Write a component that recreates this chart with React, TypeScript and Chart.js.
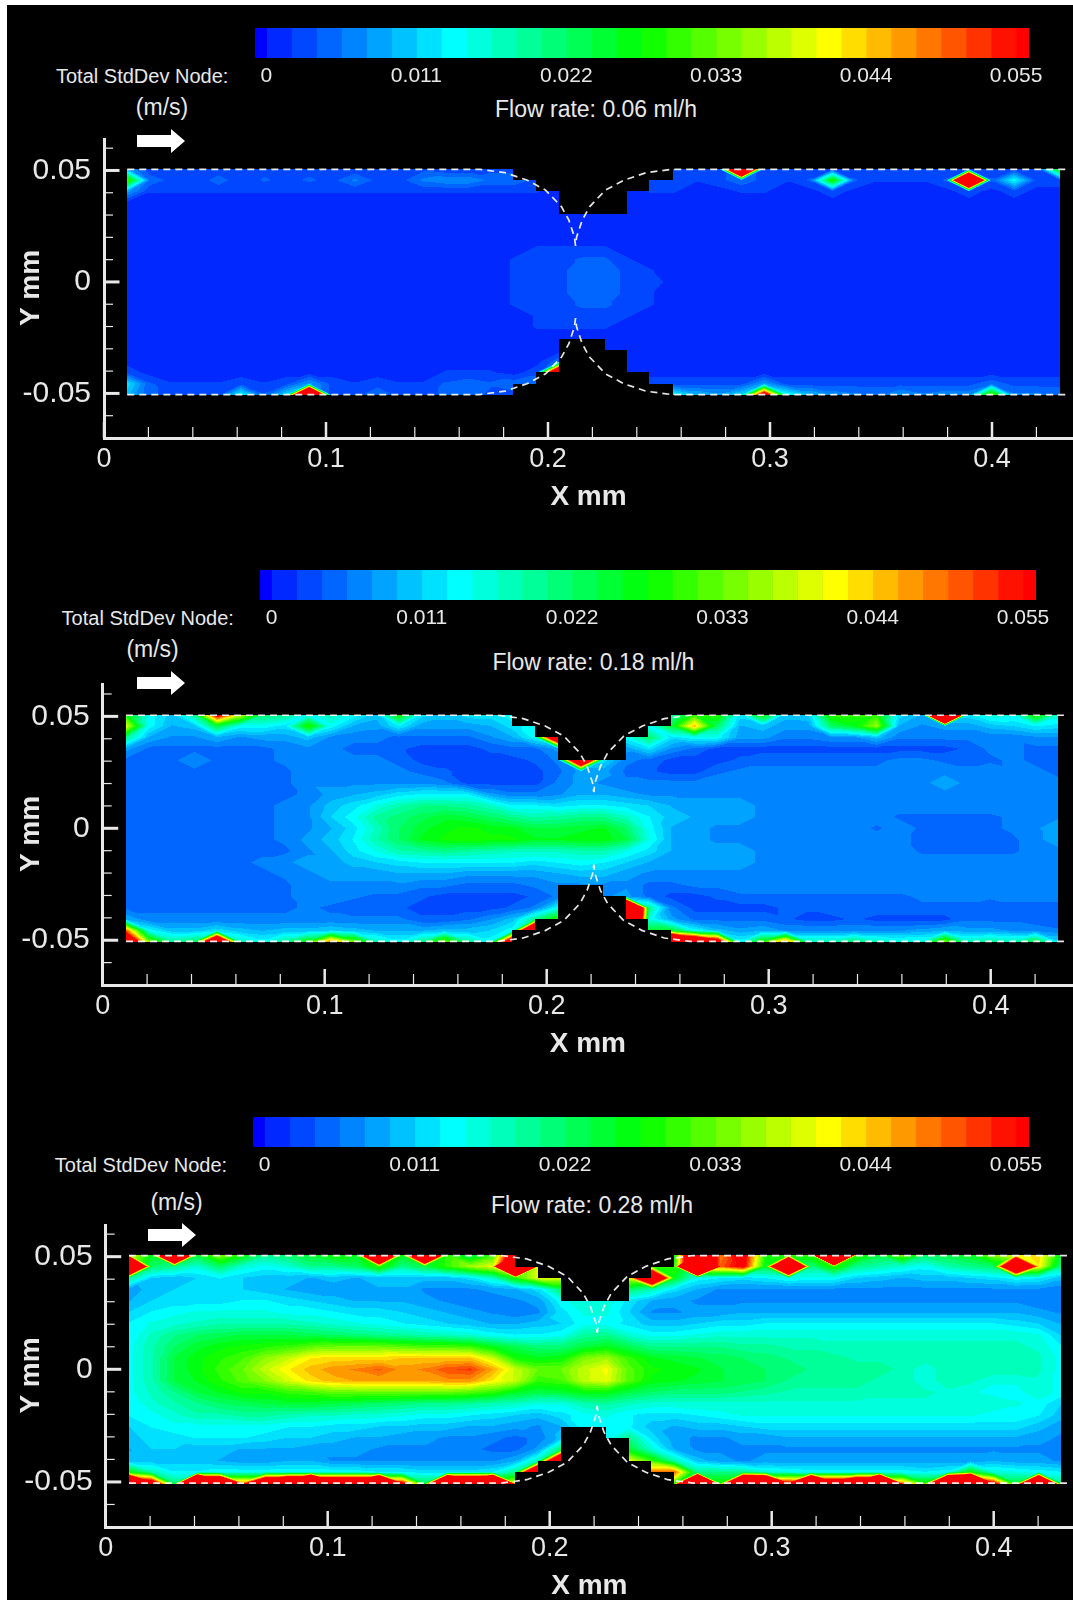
import React, { useEffect, useRef } from "react";
import { Chart, registerables } from "chart.js";

Chart.register(...registerables);

const FONT = "'Liberation Sans', Arial, sans-serif";
const INK = "#e8e8e8";

// Node columns (mm) and rows (mm) of the measurement grid
const X_FIRST = 0.0105;
const X_STEP = 0.010244;
const Y_FIRST = 0.0507;
const Y_STEP = 0.00507;

// Colour-bar levels (m/s)
const LEVEL_LABELS = [0, 0.011, 0.022, 0.033, 0.044, 0.055];
const LEVEL_COUNT = 30;
const LEVEL_MAX = 0.055;
const BAR_MIN = -0.00084;
const BAR_MAX = 0.05595;

const X_TICKS = [0, 0.02, 0.04, 0.06, 0.08, 0.1, 0.12, 0.14, 0.16, 0.18, 0.2, 0.22, 0.24, 0.26, 0.28, 0.3, 0.32, 0.34, 0.36, 0.38, 0.4, 0.42];
const X_MAJOR = [0, 0.1, 0.2, 0.3, 0.4];
const Y_TICKS = [-0.07, -0.06, -0.05, -0.04, -0.03, -0.02, -0.01, 0, 0.01, 0.02, 0.03, 0.04, 0.05, 0.06];
const Y_MAJOR = [-0.05, 0, 0.05];

// Blanked constriction, stepped on the grid (mm)
const TOP_STEP_X = [0.1843, 0.1843, 0.1948, 0.1948, 0.205, 0.205, 0.2357, 0.2357, 0.2455, 0.2455, 0.2561, 0.2561];
const TOP_STEP_Y = [0.052, 0.0456, 0.0456, 0.0406, 0.0406, 0.0304, 0.0304, 0.0406, 0.0406, 0.0456, 0.0456, 0.052];
const BOTTOM_STEP_X = [0.1843, 0.1843, 0.1948, 0.1948, 0.205, 0.205, 0.2255, 0.2255, 0.2357, 0.2357, 0.2455, 0.2455, 0.2561, 0.2561];
const BOTTOM_STEP_Y = [-0.052, -0.0456, -0.0456, -0.0406, -0.0406, -0.0254, -0.0254, -0.0304, -0.0304, -0.0406, -0.0406, -0.0456, -0.0456, -0.052];

// Throat profile: distance from the throat centre (mm), height (mm)
const THROAT_DX = [0.0432, 0.0318, 0.0219, 0.0135, 0.0063, 0.003, 0.0005, 0];
const THROAT_Y = [0.0505, 0.049, 0.0457, 0.0412, 0.0337, 0.0277, 0.0202, 0.0162];
const WALL_LEFT = 0.0105;
const WALL_RIGHT = 0.433;

// Standard deviation at each node (mm/s), rows from the top wall down
const FIELD_006 = [
  [8,2,2,2,2,2,3,2,3,2, 2,2,3,3,2,2,3,3,3,2, 2,2,2,2,2,2,3,150,3,2, 2,2,2,2,2,2,2,3,2,2, 2,30],
  [32,5,3,2,5,2,4,3,4,3, 6,3,3,6,7,7,5,5,3,2, 2,2,2,2,2,2,3,5,3,2, 4,30,4,2,2,2,4,150,4,14, 3,3],
  [8,2,2,2,2,2,2,2,2,2, 2,2,2,2,2,2,2,2,2,1, 1,1,1,2,2,1,1,2,2,1, 1,3,1,1,1,1,1,3,1,3, 1,1],
  [1,1,1,1,1,1,1,1,1,1, 1,1,1,1,1,1,1,1,1,1, 1,1,1,1,1,1,1,1,1,1, 1,1,1,1,1,1,1,1,1,1, 1,1],
  [1,1,1,1,1,1,1,1,1,1, 1,1,1,1,1,1,1,1,1,1, 1,1,1,1,1,1,1,1,1,1, 1,1,1,1,1,1,1,1,1,1, 1,1],
  [1,1,1,1,1,1,1,1,1,1, 1,1,1,1,1,1,1,1,1,1, 1,1,1,1,1,1,1,1,1,1, 1,1,1,1,1,1,1,1,1,1, 1,1],
  [1,1,1,1,1,1,1,1,1,1, 1,1,1,1,1,1,1,1,1,1, 1,1,1,1,1,1,1,1,1,1, 1,1,1,1,1,1,1,1,1,1, 1,1],
  [1,1,1,1,1,1,1,1,1,1, 1,1,1,1,1,1,1,1,2,2, 2,2,1,1,1,1,1,1,1,1, 1,1,1,1,1,1,1,1,1,1, 1,1],
  [1,1,1,1,1,1,1,1,1,1, 1,1,1,1,1,1,1,2,3,3, 4,4,2,1,1,1,1,1,1,1, 1,1,1,1,1,1,1,1,1,1, 1,1],
  [1,1,1,1,1,1,1,1,1,1, 1,1,1,1,1,1,1,2,3,3, 5,5,3,2,1,1,1,1,1,1, 1,1,1,1,1,1,1,1,1,1, 1,1],
  [1,1,1,1,1,1,1,1,1,1, 1,1,1,1,1,1,1,2,3,3, 5,5,3,3,1,1,1,1,1,1, 1,1,1,1,1,1,1,1,1,1, 1,1],
  [1,1,1,1,1,1,1,1,1,1, 1,1,1,1,1,1,1,2,3,3, 5,5,3,2,1,1,1,1,1,1, 1,1,1,1,1,1,1,1,1,1, 1,1],
  [1,1,1,1,1,1,1,1,1,1, 1,1,1,1,1,1,1,2,3,3, 4,4,3,2,1,1,1,1,1,1, 1,1,1,1,1,1,1,1,1,1, 1,1],
  [1,1,1,1,1,1,1,1,1,1, 1,1,1,1,1,1,1,1,2,3, 3,3,2,1,1,1,1,1,1,1, 1,1,1,1,1,1,1,1,1,1, 1,1],
  [1,1,1,1,1,1,1,1,1,1, 1,1,1,1,1,1,1,1,2,2, 2,2,1,1,1,1,1,1,1,1, 1,1,1,1,1,1,1,1,1,1, 1,1],
  [1,1,1,1,1,1,1,1,1,1, 1,1,1,1,1,1,1,1,1,1, 1,1,1,1,1,1,1,1,1,1, 1,1,1,1,1,1,1,1,1,1, 1,1],
  [1,1,1,1,1,1,1,1,1,1, 1,1,1,1,1,1,1,1,1,1, 1,1,1,1,1,1,1,1,1,1, 1,1,1,1,1,1,1,1,1,1, 1,1],
  [1,1,1,1,1,1,1,1,1,1, 1,1,1,1,1,1,1,1,1,5, 1,1,1,1,1,1,1,1,1,1, 1,1,1,1,1,1,1,1,1,1, 1,1],
  [3,1,1,1,1,1,1,1,1,1, 1,1,1,1,2,2,2,1,3,100, 1,1,1,1,1,1,1,1,1,1, 1,1,1,1,1,1,1,1,1,1, 1,1],
  [12,4,2,2,2,3,2,3,8,3, 2,3,2,2,4,5,4,5,5,20, 2,2,2,3,3,3,3,3,8,3, 3,3,3,3,3,3,3,3,5,3, 3,3],
  [10,4,3,3,3,14,4,12,150,3, 3,5,3,3,4,5,3,3,3,3, 3,3,3,3,14,10,8,12,70,15, 10,7,6,5,8,6,7,7,35,6, 6,5],
];

const FIELD_018 = [
  [28,14,10,20,60,40,22,20,14,18, 14,10,30,12,10,12,12,14,14,14, 14,14,14,14,18,30,30,12,30,10, 11,30,30,30,12,9,200,12,16,15, 30,16],
  [40,14,9,10,24,14,14,12,30,14, 9,8,13,8,8,8,9,12,14,14, 14,14,14,14,25,45,22,9,10,8, 8,22,26,36,9,7,8,8,10,11, 13,12],
  [20,9,7,7,9,7,8,8,10,7, 6,6,5,5,5,5,7,9,14,90, 14,14,14,22,12,14,14,8,8,6, 6,7,7,10,6,6,6,6,6,6, 7,7],
  [8,5,5,5,5,5,5,6,7,6, 5,5,4,3,3,3,4,5,5,8, 8,8,8,12,7,5,3,3,3,3, 3,3,3,3,3,3,3,4,6,6, 5,5],
  [5,5,5,7,5,5,5,6,7,7, 6,6,5,3,3,3,3,3,4,6, 100,12,6,5,3,3,3,4,5,5, 5,5,5,5,6,6,5,5,5,6, 5,5],
  [5,5,5,5,5,5,5,5,7,7, 7,7,6,5,4,3,3,3,3,5, 8,8,5,4,3,3,5,6,6,6, 6,6,6,6,6,7,7,6,7,6, 6,5],
  [5,5,5,5,5,5,5,5,7,7, 7,7,7,7,6,3,3,3,3,6, 8,7,6,6,6,6,7,7,7,7, 7,7,7,7,7,7,8,7,7,7, 7,6],
  [5,5,5,5,5,5,5,5,6,8, 9,10,12,13,13,13,8,6,6,7, 9,9,8,7,7,7,7,7,7,7, 7,7,7,7,7,7,7,7,7,7, 7,7],
  [5,5,5,5,5,5,5,6,7,10, 12,15,18,20,20,19,17,13,13,12, 13,13,12,11,9,8,8,8,7,7, 7,7,7,7,7,7,7,7,7,7, 7,7],
  [5,5,5,5,5,5,5,6,7,11, 14,19,21,23,25,24,22,20,18,19, 20,20,17,13,10,9,8,8,7,7, 7,7,7,7,5,5,5,5,5,6, 7,7],
  [5,5,5,5,5,5,5,6,7,9, 12,17,22,25,27,28,27,26,24,24, 25,26,22,14,9,8,7,7,7,7, 7,7,7,5,7,5,5,5,5,6, 7,9],
  [5,5,5,5,5,5,5,6,8,10, 13,18,22,26,28,29,28,28,26,26, 27,27,24,15,9,8,7,7,7,7, 7,7,7,7,6,5,5,5,5,5, 7,8],
  [5,5,5,5,5,5,5,5,7,9, 12,15,18,19,20,19,18,17,17,17, 18,18,15,12,9,9,8,8,7,7, 7,7,7,7,7,5,5,5,5,5, 7,7],
  [5,5,5,5,5,5,6,7,8,8, 10,11,12,13,13,13,13,13,12,13, 14,13,11,9,8,8,8,8,7,7, 7,7,7,7,7,7,7,7,7,7, 7,7],
  [5,5,5,5,5,5,5,6,7,8, 8,8,9,9,9,8,8,8,8,9, 10,10,8,7,7,7,7,7,7,7, 7,7,7,7,7,7,7,7,7,7, 7,7],
  [5,5,5,5,5,5,5,5,7,7, 7,7,7,6,6,5,5,5,6,7, 7,7,7,5,5,6,6,7,7,7, 7,7,7,7,7,7,7,7,7,7, 7,7],
  [5,5,5,5,5,5,5,5,7,7, 6,5,5,4,3,3,3,3,4,6, 7,7,8,5,3,3,4,5,5,5, 5,5,5,5,5,6,6,6,6,6, 6,6],
  [5,5,5,5,5,5,5,5,6,5, 4,4,4,3,3,3,3,4,6,14, 14,14,150,20,6,3,3,3,3,4, 4,5,5,5,5,5,5,5,4,5, 5,5],
  [9,6,6,6,6,6,6,6,6,6, 6,6,6,4,4,5,7,10,20,30, 30,30,150,15,8,5,5,5,5,4, 3,3,4,3,3,3,3,5,5,5, 4,4],
  [50,14,10,10,12,10,9,10,10,11, 10,9,9,9,10,10,11,14,120,120, 120,25,25,25,25,14,10,8,9,7, 7,7,7,7,7,8,9,8,8,7, 7,6],
  [80,35,20,22,100,18,14,20,28,50, 35,18,14,20,35,20,14,80,100,100, 100,100,100,100,120,90,70,14,30,50, 18,18,22,18,16,16,35,18,20,18, 25,12],
];

const FIELD_028 = [
  [40,26,150,25,35,28,20,22,25,28, 26,150,26,140,30,22,30,70,70,30, 30,30,30,30,28,90,48,60,28,30, 30,250,30,24,34,22,24,26,35,40, 44,24],
  [150,22,20,16,22,16,14,16,20,20, 22,30,20,24,30,36,40,200,40,30, 30,30,30,30,30,200,50,58,25,150, 20,30,20,18,16,14,18,20,22,110, 42,20],
  [20,11,10,11,13,11,10,10,9,10, 9,10,10,10,10,12,17,30,40,40, 40,40,40,100,26,14,13,12,13,15, 14,14,11,10,9,10,10,11,12,14, 13,10],
  [8,10,11,11,11,11,10,9,8,8, 8,9,9,7,7,7,8,9,12,22, 22,22,22,18,12,9,7,7,7,7, 7,7,7,7,7,7,7,7,7,7, 7,6],
  [9,11,12,12,12,13,13,12,11,10, 9,9,9,8,7,6,6,7,8,14, 16,16,12,9,8,7,7,7,7,7, 7,7,7,7,7,7,7,7,7,7, 6,6],
  [11,13,14,15,15,15,15,14,14,13, 12,12,11,10,9,8,7,6,7,12, 15,15,11,7,7,8,8,9,9,9, 9,9,9,9,9,9,9,9,9,9, 8,7],
  [13,15,16,17,18,18,18,18,17,16, 15,14,13,12,11,10,9,9,10,11, 14,14,12,10,10,11,12,12,13,13, 13,13,13,13,13,13,13,13,13,12, 11,9],
  [13,17,20,22,23,24,24,24,23,22, 21,20,19,18,17,16,14,13,13,14, 19,20,16,14,14,15,16,16,16,16, 16,16,16,16,16,16,16,16,16,16, 15,11],
  [14,18,22,25,27,28,29,30,32,33, 33,33,32,31,31,30,26,23,21,21, 24,26,23,20,20,20,20,19,19,18, 18,17,17,17,17,17,17,17,17,17, 16,13],
  [14,18,24,27,29,31,35,38,42,43, 43,43,44,44,44,44,38,28,26,27, 34,36,30,26,25,24,23,22,21,20, 19,19,18,18,18,18,17,17,17,17, 17,14],
  [14,18,24,27,30,33,38,42,45,47, 48,50,47,48,51,52,46,38,33,33, 38,41,32,28,27,26,24,23,22,21, 20,19,19,19,18,15,18,18,18,18, 17,14],
  [14,18,24,26,29,32,35,39,43,45, 46,46,46,46,47,47,42,38,30,31, 38,40,32,27,26,25,24,23,22,20, 19,19,19,18,18,15,18,17,15,15, 16,14],
  [14,17,20,24,26,28,28,30,31,33, 33,33,33,33,33,32,30,26,24,25, 27,27,24,22,21,21,21,20,19,18, 18,18,18,17,17,17,16,15,14,14, 16,14],
  [13,16,18,20,22,23,24,25,25,24, 23,22,21,20,20,19,18,17,15,15, 18,19,17,16,16,16,16,16,16,16, 16,16,16,16,16,16,16,16,16,15, 14,11],
  [13,14,16,18,18,19,19,18,17,17, 16,16,15,14,14,13,12,11,10,12, 14,15,13,12,12,13,14,15,15,15, 15,15,15,15,15,15,15,15,14,14, 13,10],
  [11,13,14,14,14,14,14,13,13,12, 12,11,11,10,10,9,9,8,7,9, 14,14,13,10,9,10,10,11,12,12, 12,12,12,12,12,12,12,12,12,12, 10,8],
  [10,12,12,13,13,13,12,11,11,10, 9,9,8,8,7,7,6,5,6,10, 14,14,20,12,8,7,7,8,8,9, 9,9,9,9,9,9,9,9,9,9, 8,7],
  [9,11,11,10,10,9,9,9,8,8, 8,7,7,7,7,6,5,5,8,22, 22,22,25,16,9,7,7,7,7,7, 7,7,7,7,7,7,7,7,7,7, 7,6],
  [10,10,10,10,9,8,8,9,9,7, 7,7,7,7,7,7,7,9,18,100, 40,40,40,30,18,10,8,7,8,8, 8,8,8,8,8,8,8,8,9,8, 8,7],
  [28,18,13,13,14,14,14,14,14,14, 14,13,13,12,12,12,13,20,110,110, 50,50,50,50,50,20,20,20,16,15, 14,14,14,14,14,13,14,28,16,15, 14,13],
  [120,70,22,200,120,50,100,120,180,100, 100,150,60,24,160,130,170,40,120,120, 120,120,120,120,30,200,30,150,140,60, 150,80,100,180,50,30,150,200,60,25, 150,20],
];

type Panel = {
  field: number[][];
  throat: number; // mm
  x0: number; axisY: number; axisTop: number; zeroY: number;
  bar: [number, number, number, number];
  total: [number, number]; units: [number, number]; flow: [number, number];
  arrow: [number, number];
  flowLabel: string;
};

const PANELS: Panel[] = [
  { field: FIELD_006, throat: 0.2124, x0: 104, axisY: 437.5, axisTop: 138, zeroY: 281.7,
    bar: [254.6, 28, 774.4, 29.5], total: [56, 76], units: [162, 107], flow: [596, 109], arrow: [137, 129], flowLabel: "Flow rate: 0.06 ml/h" },
  { field: FIELD_018, throat: 0.2212, x0: 102.7, axisY: 985, axisTop: 683, zeroY: 828.3,
    bar: [260, 570, 775.6, 30], total: [61.6, 618], units: [152.6, 649], flow: [593.4, 661.7], arrow: [137, 671], flowLabel: "Flow rate: 0.18 ml/h" },
  { field: FIELD_028, throat: 0.2214, x0: 105.7, axisY: 1527, axisTop: 1224, zeroY: 1369.3,
    bar: [253, 1116.7, 776, 30], total: [54.8, 1165], units: [176.6, 1201.7], flow: [592, 1205], arrow: [148, 1223], flowLabel: "Flow rate: 0.28 ml/h" },
];

const SCALE_X_PX = 2220;

function rainbow(t: number): [number, number, number] {
  if (t < 0.25) return [0, Math.round(25 + 230 * 4 * t), 255];
  if (t < 0.5) return [0, 255, Math.round(255 * (1 - (t - 0.25) * 4))];
  if (t < 0.75) return [Math.round((t - 0.5) * 4 * 255), 255, 0];
  return [255, Math.round(255 * (1 - (t - 0.75) * 4)), 0];
}
const bandColor = (k: number): [number, number, number] =>
  k < 0 ? [0, 0, 255] : k >= LEVEL_COUNT ? [255, 0, 0] : rainbow((k + 0.5) / LEVEL_COUNT);

function cellValue(f: number[][], fi: number, fj: number) {
  const i = Math.min(Math.max(Math.floor(fi), 0), 40);
  const j = Math.min(Math.max(Math.floor(fj), 0), 19);
  const u = Math.min(Math.max(fi - i, 0), 1);
  const v = Math.min(Math.max(fj - j, 0), 1);
  const a = f[j][i], b = f[j][i + 1], c = f[j + 1][i], d = f[j + 1][i + 1];
  if (Math.abs(a - d) <= Math.abs(b - c)) {
    return u > v ? a + u * (b - a) + v * (d - b) : a + v * (c - a) + u * (d - c);
  }
  return u + v < 1 ? a + u * (b - a) + v * (c - a) : d + (1 - u) * (c - d) + (1 - v) * (b - d);
}

function fieldPlugin(field: number[][]) {
  return {
    id: "field",
    beforeDatasetsDraw(chart: any) {
      const { x: sx, y: sy } = chart.scales;
      const left = Math.round(sx.getPixelForValue(X_FIRST));
      const right = Math.round(sx.getPixelForValue(X_FIRST + 41 * X_STEP));
      const top = Math.round(sy.getPixelForValue(Y_FIRST));
      const bottom = Math.round(sy.getPixelForValue(Y_FIRST - 20 * Y_STEP));
      const w = right - left, h = bottom - top;
      const off = document.createElement("canvas");
      off.width = w; off.height = h;
      const oc = off.getContext("2d")!;
      const img = oc.createImageData(w, h);
      const step = (LEVEL_MAX * 1000) / LEVEL_COUNT;
      for (let py = 0; py < h; py++) {
        const yv = sy.getValueForPixel(top + py + 0.5);
        const fj = (Y_FIRST - yv) / Y_STEP;
        for (let px = 0; px < w; px++) {
          const xv = sx.getValueForPixel(left + px + 0.5);
          const fi = (xv - X_FIRST) / X_STEP;
          const val = cellValue(field, fi, fj);
          const [r, g, b] = bandColor(Math.floor(val / step));
          const o = (py * w + px) * 4;
          img.data[o] = r; img.data[o + 1] = g; img.data[o + 2] = b; img.data[o + 3] = 255;
        }
      }
      oc.putImageData(img, 0, 0);
      const ctx = chart.ctx;
      ctx.save();
      ctx.drawImage(off, left, top);
      ctx.fillStyle = "#000";
      for (const [xs, ys] of [[TOP_STEP_X, TOP_STEP_Y], [BOTTOM_STEP_X, BOTTOM_STEP_Y]]) {
        ctx.beginPath();
        xs.forEach((xv: number, n: number) => {
          const px = Math.round(sx.getPixelForValue(xv));
          const py = Math.round(sy.getPixelForValue(ys[n]));
          n ? ctx.lineTo(px, py) : ctx.moveTo(px, py);
        });
        ctx.closePath();
        ctx.fill();
      }
      ctx.restore();
    },
  };
}

const tickMarks = {
  id: "tickMarks",
  afterDatasetsDraw(chart: any) {
    const { x: sx, y: sy } = chart.scales;
    const ctx = chart.ctx;
    ctx.save();
    ctx.strokeStyle = INK;
    for (const t of sx.ticks) {
      const major = X_MAJOR.includes(t.value);
      const px = sx.getPixelForValue(t.value);
      ctx.lineWidth = major ? 2.5 : 1.2;
      ctx.beginPath();
      ctx.moveTo(px, sx.top);
      ctx.lineTo(px, sx.top - (major ? 16 : 11));
      ctx.stroke();
    }
    for (const t of sy.ticks) {
      const major = Y_MAJOR.includes(t.value);
      const py = sy.getPixelForValue(t.value);
      ctx.lineWidth = major ? 3 : 1.2;
      ctx.beginPath();
      ctx.moveTo(sy.right, py);
      ctx.lineTo(sy.right + (major ? 15.5 : 9), py);
      ctx.stroke();
    }
    ctx.restore();
  },
};

function curves(throat: number) {
  const mk = (sideX: number, sideY: number, wallEnd: number) => [
    { x: wallEnd, y: sideY * THROAT_Y[0] },
    ...THROAT_DX.map((dx, n) => ({ x: throat + sideX * dx, y: sideY * THROAT_Y[n] })),
  ];
  return [mk(-1, 1, WALL_LEFT), mk(1, 1, WALL_RIGHT), mk(-1, -1, WALL_LEFT), mk(1, -1, WALL_RIGHT)];
}

const zeroPad = (s: any) => {
  s.paddingLeft = s.paddingRight = s.paddingTop = s.paddingBottom = 0;
};

function makePanel(canvas: HTMLCanvasElement, p: Panel) {
  const belowAxis = 76;
  const unitY = (p.axisY - p.zeroY) / 0.07;
  return new Chart(canvas, {
    type: "scatter",
    data: {
      datasets: curves(p.throat).map((data) => ({
        data,
        showLine: true,
        pointRadius: 0,
        borderColor: "rgba(255,255,255,0.9)",
        borderWidth: 1.7,
        borderDash: [7, 5],
        tension: 0,
        clip: false,
      })),
    },
    options: {
      responsive: false,
      animation: false,
      events: [],
      layout: { padding: 0 },
      plugins: { legend: { display: false }, tooltip: { enabled: false } },
      scales: {
        x: {
          type: "linear",
          min: 0,
          max: (1073 - p.x0) / SCALE_X_PX,
          afterBuildTicks: (s: any) => { s.ticks = X_TICKS.map((value) => ({ value })); },
          afterFit: (s: any) => { s.height = belowAxis; zeroPad(s); },
          border: { display: true, color: INK, width: 3 },
          grid: { display: false, drawTicks: false },
          ticks: {
            autoSkip: false, maxRotation: 0, padding: 5, color: INK,
            font: { family: FONT, size: 27 },
            callback: (v: any) => (X_MAJOR.includes(v) ? String(v) : ""),
          },
          title: { display: true, text: "X mm", color: INK, padding: 0, font: { family: FONT, size: 28, weight: "bold" } },
        },
        y: {
          type: "linear",
          min: -0.07,
          max: (p.zeroY - p.axisTop) / unitY,
          afterBuildTicks: (s: any) => { s.ticks = Y_TICKS.map((value) => ({ value })); },
          afterFit: (s: any) => { s.width = p.x0; zeroPad(s); },
          border: { display: true, color: INK, width: 3 },
          grid: { display: false, drawTicks: false },
          ticks: {
            autoSkip: false, padding: 13, color: INK,
            font: { family: FONT, size: 30 },
            callback: (v: any) => (Y_MAJOR.includes(v) ? String(v) : ""),
          },
          title: { display: true, text: "Y mm", color: INK, padding: { top: 14, bottom: 0 }, font: { family: FONT, size: 28, weight: "bold" } },
        },
      },
    } as any,
    plugins: [fieldPlugin(p.field), tickMarks],
  } as any);
}

function makeBar(canvas: HTMLCanvasElement) {
  const edges = [BAR_MIN];
  for (let k = 0; k <= LEVEL_COUNT; k++) edges.push((k * LEVEL_MAX) / LEVEL_COUNT);
  edges.push(BAR_MAX);
  const datasets = edges.slice(0, -1).map((lo, n) => {
    const [r, g, b] = bandColor(n - 1);
    return { data: [[lo, edges[n + 1]]], backgroundColor: `rgb(${r},${g},${b})`, borderWidth: 0, barPercentage: 1, categoryPercentage: 1, grouped: false };
  });
  return new Chart(canvas, {
    type: "bar",
    data: { labels: [""], datasets },
    options: {
      indexAxis: "y",
      responsive: false,
      animation: false,
      events: [],
      layout: { padding: { right: 40 } },
      plugins: { legend: { display: false }, tooltip: { enabled: false } },
      scales: {
        y: { display: false, grid: { display: false } },
        x: {
          type: "linear",
          min: BAR_MIN,
          max: BAR_MAX,
          afterBuildTicks: (s: any) => { s.ticks = LEVEL_LABELS.map((value) => ({ value })); },
          afterFit: (s: any) => { s.height = 36; zeroPad(s); },
          border: { display: false },
          grid: { display: false, drawTicks: false },
          ticks: { autoSkip: false, maxRotation: 0, padding: 6, color: INK, font: { family: FONT, size: 21 }, callback: (v: any) => String(v) },
        },
      },
    } as any,
  } as any);
}

const label = (text: string, x: number, y: number, centre: boolean, size: number) => (
  <div key={text + y} style={{ position: "absolute", left: x, top: y, transform: centre ? "translate(-50%,-50%)" : "translateY(-50%)", color: INK, font: `${size}px ${FONT}`, whiteSpace: "nowrap" }}>{text}</div>
);

export default function App() {
  const panelRefs = useRef<(HTMLCanvasElement | null)[]>([]);
  const barRefs = useRef<(HTMLCanvasElement | null)[]>([]);
  useEffect(() => {
    const charts = PANELS.flatMap((p, n) => [
      makePanel(panelRefs.current[n]!, p),
      makeBar(barRefs.current[n]!),
    ]);
    return () => charts.forEach((c) => c.destroy());
  }, []);
  return (
    <div style={{ position: "absolute", left: 0, top: 0, width: 1073, height: 1600, overflow: "hidden", background: "#fff" }}>
      <div style={{ position: "absolute", inset: 0, filter: "blur(0.5px)" }}>
        <div style={{ position: "absolute", left: 7, top: 5, right: 0, bottom: 0, background: "#000" }} />
        {PANELS.map((p, n) => (
          <React.Fragment key={n}>
            <canvas
              ref={(el) => { panelRefs.current[n] = el; }}
              width={1073}
              height={Math.round(p.axisY - p.axisTop + 76)}
              style={{ position: "absolute", left: 0, top: p.axisTop, display: "block" }}
            />
            <canvas
              ref={(el) => { barRefs.current[n] = el; }}
              width={Math.round(p.bar[2] + 40)}
              height={Math.round(p.bar[3] + 36)}
              style={{ position: "absolute", left: p.bar[0], top: p.bar[1], display: "block" }}
            />
            {label("Total StdDev Node:", p.total[0], p.total[1], false, 20)}
            {label("(m/s)", p.units[0], p.units[1], true, 23)}
            {label(p.flowLabel, p.flow[0], p.flow[1], true, 23)}
            <svg style={{ position: "absolute", left: p.arrow[0], top: p.arrow[1] }} width={48} height={24}>
              <polygon points="0,6 34,6 34,0 48,12 34,24 34,18 0,18" fill="#fff" />
            </svg>
          </React.Fragment>
        ))}
      </div>
    </div>
  );
}
